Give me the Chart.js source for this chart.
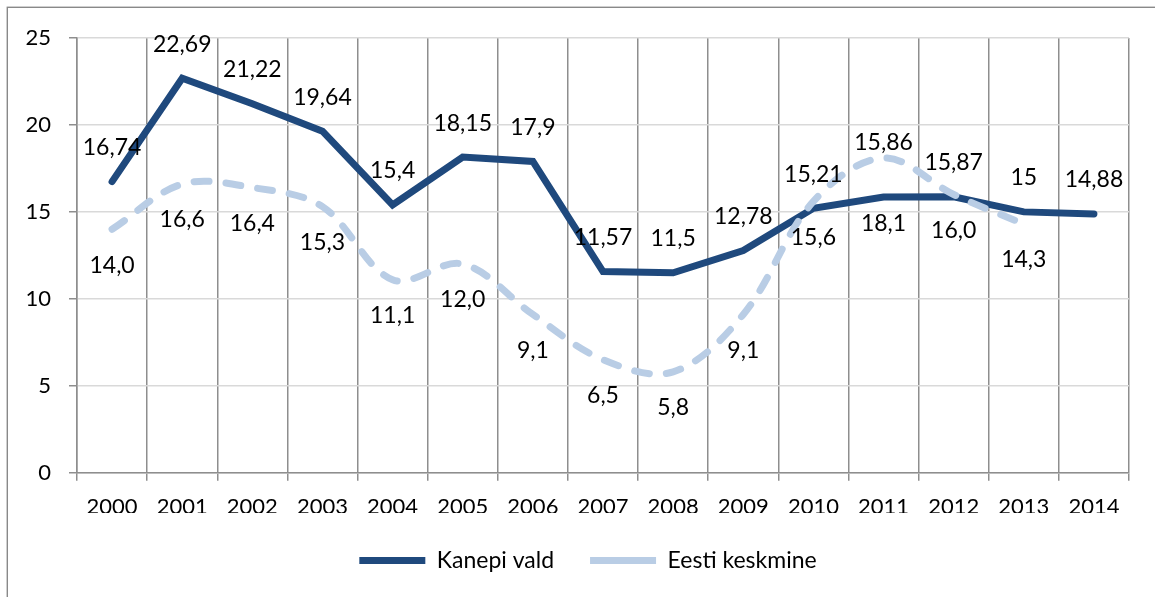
<!DOCTYPE html>
<html>
<head>
<meta charset="utf-8">
<script src="https://cdn.jsdelivr.net/npm/chart.js@4.4.1/dist/chart.umd.min.js"></script>
<style>
  html, body { margin: 0; padding: 0; background: #ffffff; }
  #wrap { width: 1155px; height: 597px; position: relative; }
</style>
</head>
<body>
<div id="wrap"><canvas id="c" width="1155" height="597"></canvas></div>
<script>
// ---- data ----
const years = ['2000', '2001', '2002', '2003', '2004', '2005', '2006', '2007',
               '2008', '2009', '2010', '2011', '2012', '2013', '2014'];
const kanepiVald = [16.74, 22.69, 21.22, 19.64, 15.4, 18.15, 17.9, 11.57,
                    11.5, 12.78, 15.21, 15.86, 15.87, 15, 14.88];
const eestiKeskmine = [14.0, 16.6, 16.4, 15.3, 11.1, 12.0, 9.1, 6.5,
                       5.8, 9.1, 15.6, 18.1, 16.0, 14.3, null];
const yTicks = [0, 5, 10, 15, 20, 25];
const seriesNames = ['Kanepi vald', 'Eesti keskmine'];

// ---- styling ----
const FONT = 'Lato';
const FS = 22;
const LFS = 23;
const AXIS_GREY = '#8e8e8e';
const GRID_LIGHT = '#d9d9d9';

const fmtKanepi = v => String(v).replace('.', ',');
const fmtEesti = v => v.toFixed(1).replace('.', ',');

const pointLabels = {
  id: 'pointLabels',
  afterDatasetsDraw(chart, args, opts) {
    const ctx = chart.ctx;
    ctx.save();
    ctx.font = LFS + 'px ' + FONT;
    ctx.fillStyle = '#000000';
    ctx.textAlign = 'center';
    ctx.textBaseline = 'middle';
    chart.data.datasets.forEach((ds, di) => {
      const meta = chart.getDatasetMeta(di);
      const cfg = opts.series[di];
      meta.data.forEach((pt, i) => {
        const v = ds.data[i];
        if (v === null || v === undefined) return;
        const off = (cfg.overrides && cfg.overrides[i] !== undefined) ? cfg.overrides[i] : cfg.offset;
        ctx.fillText(cfg.format(v), pt.x, pt.y + off);
      });
    });
    ctx.restore();
  }
};

const frame = {
  id: 'frame',
  afterLayout(chart) {
    // centre the legend row like the reference
    if (chart.legend) { chart.legend.left += 27; }
  },
  beforeDraw(chart) {
    const ctx = chart.ctx;
    ctx.save();
    ctx.fillStyle = '#ffffff';
    ctx.fillRect(0, 0, chart.width, chart.height);
    ctx.strokeStyle = '#898989';
    ctx.lineWidth = 1.4;
    ctx.strokeRect(7.3, 7.3, chart.width + 50, chart.height + 50);
    ctx.restore();
  }
};

new Chart(document.getElementById('c'), {
  type: 'line',
  data: {
    labels: years,
    datasets: [
      {
        label: seriesNames[0],
        data: kanepiVald,
        borderColor: '#1f497d',
        backgroundColor: '#1f497d',
        borderWidth: 7,
        borderCapStyle: 'round',
        borderJoinStyle: 'miter',
        tension: 0,
        pointRadius: 0,
        pointHoverRadius: 0,
        order: 1
      },
      {
        label: seriesNames[1],
        data: eestiKeskmine,
        borderColor: '#b9cde5',
        backgroundColor: '#b9cde5',
        borderWidth: 7,
        borderDash: [15, 17],
        borderCapStyle: 'round',
        borderJoinStyle: 'round',
        tension: 0.35,
        pointRadius: 0,
        pointHoverRadius: 0,
        order: 0
      }
    ]
  },
  options: {
    responsive: false,
    animation: false,
    devicePixelRatio: 1,
    events: [],
    layout: { padding: { left: 20, right: 26, top: 38, bottom: 15 } },
    font: { family: FONT, size: FS },
    scales: {
      x: {
        offset: true,
        grid: {
          offset: true,
          color: AXIS_GREY,
          lineWidth: 1.5,
          tickColor: AXIS_GREY,
          tickLength: 8,
          drawTicks: true
        },
        border: { color: AXIS_GREY, width: 1.5 },
        ticks: { color: '#000000', font: { family: FONT, size: FS }, padding: 13, maxRotation: 0, autoSkip: false },
        afterFit(scale) { scale.height = 40.3; }
      },
      y: {
        min: yTicks[0],
        max: yTicks[yTicks.length - 1],
        afterBuildTicks(scale) { scale.ticks = yTicks.map(v => ({ value: v })); },
        grid: {
          color: GRID_LIGHT,
          lineWidth: 1.5,
          tickColor: AXIS_GREY,
          tickLength: 8
        },
        border: { color: AXIS_GREY, width: 1.5 },
        ticks: { color: '#000000', font: { family: FONT, size: FS }, padding: 18 },
        afterFit(scale) { scale.width = 57; }
      }
    },
    plugins: {
      legend: {
        position: 'bottom',
        align: 'center',
        labels: {
          usePointStyle: true,
          pointStyle: 'line',
          pointStyleWidth: 66,
          padding: 36,
          color: '#000000',
          font: { family: FONT, size: LFS },
          sort: (a, b) => a.datasetIndex - b.datasetIndex
        }
      },
      tooltip: { enabled: false },
      pointLabels: {
        series: [
          { format: fmtKanepi, offset: -34, overrides: { 11: -54 } },
          { format: fmtEesti, offset: 36, overrides: { 11: 66 } }
        ]
      }
    }
  },
  plugins: [frame, pointLabels]
});
</script>
</body>
</html>
